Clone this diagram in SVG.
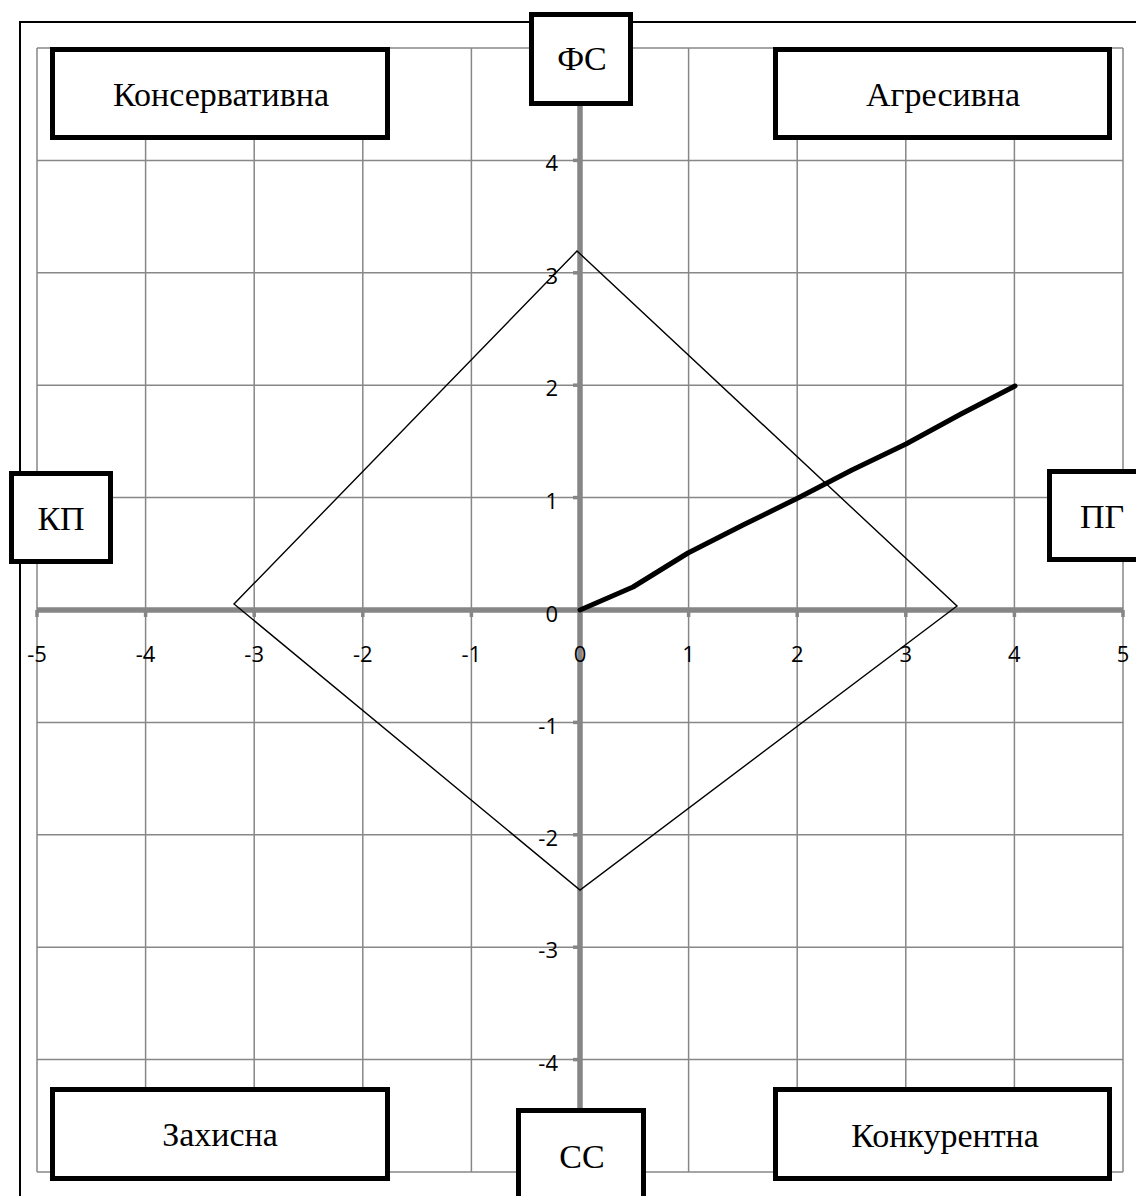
<svg xmlns="http://www.w3.org/2000/svg" width="1136" height="1196" viewBox="0 0 1136 1196">
<style>
.grid line{stroke:#878787;stroke-width:1.5}
.axis{stroke:#868686;stroke-width:5.5;fill:none}
.tick{stroke:#868686;stroke-width:3.5}
.tl{font-family:"Open Sans","Liberation Sans",Arial,sans-serif;font-size:22px;fill:#000}
.box rect{fill:#fff;stroke:#000;stroke-width:5}
.box text{font-family:"Liberation Serif","Times New Roman",serif;font-size:34px;fill:#000;text-anchor:middle}
</style>
<rect x="0" y="0" width="1136" height="1196" fill="#fff"/>
<rect id="frame" x="20" y="22" width="1200" height="1200" fill="none" stroke="#000" stroke-width="2"/>
<g class="grid">
<line x1="37" y1="48" x2="1123" y2="48"/>
<line x1="37" y1="160.4" x2="1123" y2="160.4"/>
<line x1="37" y1="272.8" x2="1123" y2="272.8"/>
<line x1="37" y1="385.2" x2="1123" y2="385.2"/>
<line x1="37" y1="497.6" x2="1123" y2="497.6"/>
<line x1="37" y1="722.4" x2="1123" y2="722.4"/>
<line x1="37" y1="834.8" x2="1123" y2="834.8"/>
<line x1="37" y1="947.2" x2="1123" y2="947.2"/>
<line x1="37" y1="1059.6" x2="1123" y2="1059.6"/>
<line x1="37" y1="1172" x2="1123" y2="1172"/>
<line x1="37" y1="48" x2="37" y2="1172"/>
<line x1="145.6" y1="48" x2="145.6" y2="1172"/>
<line x1="254.2" y1="48" x2="254.2" y2="1172"/>
<line x1="362.8" y1="48" x2="362.8" y2="1172"/>
<line x1="471.4" y1="48" x2="471.4" y2="1172"/>
<line x1="688.6" y1="48" x2="688.6" y2="1172"/>
<line x1="797.2" y1="48" x2="797.2" y2="1172"/>
<line x1="905.8" y1="48" x2="905.8" y2="1172"/>
<line x1="1014.4" y1="48" x2="1014.4" y2="1172"/>
<line x1="1123" y1="48" x2="1123" y2="1172"/>
</g>
<g id="axes">
<line class="axis" x1="37" y1="610" x2="1123" y2="610"/>
<line class="axis" x1="580" y1="48" x2="580" y2="1172"/>
<g class="tick">
<line x1="37" y1="610" x2="37" y2="617"/>
<line x1="145.6" y1="610" x2="145.6" y2="617"/>
<line x1="254.2" y1="610" x2="254.2" y2="617"/>
<line x1="362.8" y1="610" x2="362.8" y2="617"/>
<line x1="471.4" y1="610" x2="471.4" y2="617"/>
<line x1="580" y1="610" x2="580" y2="617"/>
<line x1="688.6" y1="610" x2="688.6" y2="617"/>
<line x1="797.2" y1="610" x2="797.2" y2="617"/>
<line x1="905.8" y1="610" x2="905.8" y2="617"/>
<line x1="1014.4" y1="610" x2="1014.4" y2="617"/>
<line x1="1123" y1="610" x2="1123" y2="617"/>
<line x1="573" y1="160.4" x2="580" y2="160.4"/>
<line x1="573" y1="272.8" x2="580" y2="272.8"/>
<line x1="573" y1="385.2" x2="580" y2="385.2"/>
<line x1="573" y1="497.6" x2="580" y2="497.6"/>
<line x1="573" y1="610" x2="580" y2="610"/>
<line x1="573" y1="722.4" x2="580" y2="722.4"/>
<line x1="573" y1="834.8" x2="580" y2="834.8"/>
<line x1="573" y1="947.2" x2="580" y2="947.2"/>
<line x1="573" y1="1059.6" x2="580" y2="1059.6"/>
</g>
<g class="tl" text-anchor="middle">
<text x="37" y="662">-5</text>
<text x="145.6" y="662">-4</text>
<text x="254.2" y="662">-3</text>
<text x="362.8" y="662">-2</text>
<text x="471.4" y="662">-1</text>
<text x="580" y="662">0</text>
<text x="688.6" y="662">1</text>
<text x="797.2" y="662">2</text>
<text x="905.8" y="662">3</text>
<text x="1014.4" y="662">4</text>
<text x="1123" y="662">5</text>
</g>
<g class="tl" text-anchor="end">
<text x="558" y="171">4</text>
<text x="558" y="284">3</text>
<text x="558" y="396">2</text>
<text x="558" y="509">1</text>
<text x="558" y="622">0</text>
<text x="558" y="734">-1</text>
<text x="558" y="846">-2</text>
<text x="558" y="958">-3</text>
<text x="558" y="1071">-4</text>
</g>
</g>
<g id="connectors">
<polygon id="diamond" points="577,251 957,606 580,890 234,604" fill="none" stroke="#000" stroke-width="1.4"/>
<polyline id="vector" points="580,610 633,587 688,553 743,525 798,498 852,470 906,444 961,414 1015,386" fill="none" stroke="#000" stroke-width="5" stroke-linejoin="round" stroke-linecap="round"/>
</g>
<g id="n-konservatyvna" class="box"><rect x="52.5" y="49.5" width="335" height="88"/><text x="221" y="106">Консервативна</text></g>
<g id="n-ahresyvna" class="box"><rect x="775.5" y="49.5" width="334" height="88"/><text x="943" y="106">Агресивна</text></g>
<g id="n-fs" class="box"><rect x="531.5" y="14.5" width="99" height="89"/><text x="582" y="70">ФС</text></g>
<g id="n-kp" class="box"><rect x="11.5" y="473.5" width="99" height="88"/><text x="61" y="530">КП</text></g>
<g id="n-pg" class="box"><rect x="1049.5" y="471.5" width="105" height="88"/><text x="1102" y="528">ПГ</text></g>
<g id="n-ss" class="box"><rect x="518.5" y="1110.5" width="125" height="95"/><text x="582" y="1168">СС</text></g>
<g id="n-zakhysna" class="box"><rect x="52.5" y="1089.5" width="335" height="89"/><text x="220" y="1146">Захисна</text></g>
<g id="n-konkurentna" class="box"><rect x="775.5" y="1089.5" width="334" height="89"/><text x="945" y="1147">Конкурентна</text></g>
</svg>
